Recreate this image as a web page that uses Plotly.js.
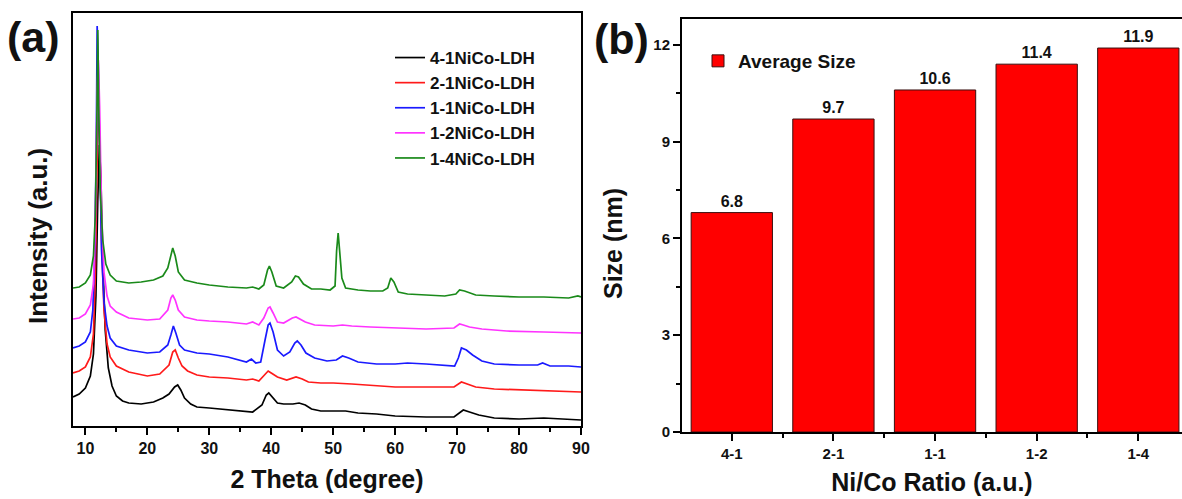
<!DOCTYPE html>
<html><head><meta charset="utf-8">
<script src="https://cdn.plot.ly/plotly-3.0.1.min.js"></script>
<style>html,body{margin:0;padding:0;background:#fff;overflow:hidden}#chart{width:1182px;height:499px}</style>
</head><body><div id="chart"></div>
<script>
// ---------- Panel (a): XRD patterns ----------
const seriesNames = ['4-1NiCo-LDH', '2-1NiCo-LDH', '1-1NiCo-LDH', '1-2NiCo-LDH', '1-4NiCo-LDH'];
const seriesColors = ['#000000', '#ff1a1a', '#1a1aff', '#ff33ff', '#1a8a1a'];

const theta41 = [8, 9, 10, 10.8, 11.3, 11.7, 12.0, 12.25, 12.5, 12.8, 13.2, 13.7, 14.3, 15, 16, 17, 19, 21, 22.5, 23.5, 24.4, 24.9, 25.4, 26, 27, 28, 30, 32, 35, 37, 38.5, 39.2, 39.6, 40.2, 41, 42, 43.5, 44.5, 45.5, 46.5, 48, 50, 52, 54, 57, 60, 65, 69.5, 70.5, 71, 72, 73.5, 76, 80, 84, 87, 90];
const int41 = [29, 32, 38, 50, 72, 130, 226, 281, 250, 166, 96, 58, 40, 30, 25, 23, 22, 24, 28, 32, 39, 41, 36, 28, 22, 19, 18, 17, 15, 14, 21, 31, 33, 29, 23, 22, 22, 23, 21, 17, 15, 15, 15, 13, 12, 10, 9, 9, 14, 16, 14, 11, 8, 7, 8, 7, 6];

const theta21 = [8, 9, 10, 10.8, 11.3, 11.6, 11.9, 12.1, 12.3, 12.6, 13, 13.5, 14, 15, 17, 20, 22, 23.5, 24.1, 24.5, 25, 25.6, 26.5, 28, 30, 33, 36, 37, 38, 39, 39.5, 40, 41, 42.5, 44, 45, 46, 48, 50, 53, 56, 60, 65, 69.5, 70.7, 71.5, 73, 76, 80, 85, 90];
const int21 = [53, 55, 59, 69, 92, 150, 266, 326, 290, 186, 116, 82, 69, 60, 54, 50, 52, 61, 74, 76, 68, 60, 55, 51, 49, 48, 46, 47, 45, 52, 55, 53, 49, 46, 49, 47, 44, 43, 43, 42, 41, 39, 39, 39, 44, 42, 39, 37, 36, 35, 34];

const theta11 = [8, 9, 10, 10.8, 11.2, 11.5, 11.75, 11.9, 12.05, 12.3, 12.6, 13, 13.5, 14, 15, 17, 20, 22, 23.3, 23.8, 24.2, 24.6, 25.2, 26, 28, 30, 33, 36, 36.8, 37.5, 38.3, 39, 39.5, 39.8, 40.3, 41, 42, 43, 43.8, 44.2, 44.8, 45.6, 47, 49, 50.5, 51.5, 52.5, 54, 57, 60, 62, 65, 68, 69.6, 70.2, 70.7, 71.5, 72.5, 74, 76, 80, 83, 83.8, 85, 88, 90];
const int11 = [78, 80, 84, 94, 116, 170, 276, 400, 370, 266, 176, 124, 100, 88, 80, 76, 73, 74, 81, 91, 100, 93, 81, 76, 73, 72, 69, 64, 67, 63, 64, 86, 101, 103, 94, 76, 70, 74, 83, 85, 81, 73, 68, 65, 66, 70, 68, 64, 62, 62, 63, 62, 61, 60, 68, 78, 76, 71, 65, 62, 61, 61, 63, 60, 60, 59];

const theta12 = [8, 9, 10, 10.8, 11.3, 11.6, 11.9, 12.1, 12.3, 12.6, 13, 13.5, 14, 15, 17, 20, 22, 23.3, 23.8, 24.1, 24.5, 25, 26, 28, 30, 33, 36, 37, 38, 38.8, 39.5, 39.8, 40.3, 41, 42, 43.4, 44, 44.6, 45.5, 47, 50, 51.5, 53, 56, 60, 65, 69.5, 70.4, 71, 72, 74, 78, 84, 90];
const int12 = [107, 108, 112, 121, 142, 200, 336, 366, 320, 216, 154, 130, 120, 114, 108, 106, 107, 116, 128, 131, 126, 116, 109, 106, 105, 104, 102, 104, 101, 108, 118, 119, 113, 104, 103, 108, 109, 107, 104, 101, 100, 101, 100, 99, 98, 97, 98, 102, 101, 99, 97, 95, 94, 93];

const theta14 = [8, 9, 10, 10.8, 11.3, 11.6, 11.85, 12.0, 12.15, 12.4, 12.8, 13.3, 14, 15, 17, 19, 21, 22.5, 23.3, 23.8, 24.1, 24.5, 25, 26, 28, 30, 33, 36, 37, 38, 38.8, 39.4, 39.7, 40.1, 40.8, 42, 43.3, 43.9, 44.4, 45.2, 46.5, 48, 49.5, 50.3, 50.55, 50.8, 51.05, 51.4, 52, 54, 56, 58, 58.8, 59.3, 59.8, 60.5, 62, 65, 68, 69.8, 70.4, 71.2, 72, 73, 76, 80, 84, 88, 89.5, 90];
const int14 = [138, 139, 143, 151, 170, 210, 306, 396, 320, 236, 186, 162, 151, 145, 143, 144, 146, 150, 158, 171, 178, 170, 154, 146, 143, 141, 139, 138, 139, 137, 141, 156, 160, 154, 140, 138, 144, 150, 149, 142, 137, 137, 136, 140, 175, 193, 172, 148, 138, 136, 135, 135, 138, 148, 144, 134, 132, 131, 130, 132, 136, 135, 133, 131, 130, 129, 129, 128, 130, 129];

const thetaSets = [theta41, theta21, theta11, theta12, theta14];
const intSets = [int41, int21, int11, int12, int14];

// ---------- Panel (b): average size ----------
const ratioCategories = ['4-1', '2-1', '1-1', '1-2', '1-4'];
const averageSize = [6.8, 9.7, 10.6, 11.4, 11.9];
const sizeTickVals = [0, 3, 6, 9, 12];

const W = 1182, H = 499;
const fx = p => p / W;
const fy = p => 1 - p / H;
const FONT = 'Liberation Sans, Arial, Helvetica, sans-serif';
const INK = '#111';

const traces = seriesNames.map((name, i) => ({
  type: 'scatter', mode: 'lines', name: name,
  x: thetaSets[i], y: intSets[i],
  line: {color: seriesColors[i], width: 1.7},
  xaxis: 'x', yaxis: 'y', legend: 'legend', legendgroup: 'g' + i
}));

const idx = ratioCategories.map((c, i) => i);
traces.push({
  type: 'bar', name: 'Average Size',
  x: idx, y: averageSize,
  width: 0.8,
  marker: {color: '#ff0000', line: {color: '#3a1010', width: 1}},
  text: averageSize.map(v => v.toFixed(1)),
  textposition: 'outside',
  textfont: {family: FONT, size: 16, weight: 'bold', color: INK},
  cliponaxis: false,
  xaxis: 'x2', yaxis: 'y2', legend: 'legend2'
});

const axLine = {showline: true, linewidth: 2, linecolor: '#000', mirror: true, showgrid: false, zeroline: false};

const layout = {
  width: W, height: H,
  margin: {l: 0, r: 0, t: 0, b: 0},
  paper_bgcolor: '#fff', plot_bgcolor: '#fff',
  font: {family: FONT, color: '#000'},
  showlegend: true,
  xaxis: Object.assign({}, axLine, {
    domain: [fx(73), fx(581)], range: [8, 90], anchor: 'y',
    tickmode: 'linear', tick0: 0, dtick: 10,
    ticks: 'outside', ticklen: 7, tickwidth: 2, tickcolor: '#000',
    tickfont: {size: 16, weight: 'bold', color: INK},
    minor: {tick0: 0, dtick: 5, ticks: 'outside', ticklen: 4, tickwidth: 2, tickcolor: '#000', showgrid: false},
    title: {text: '2 Theta (degree)', font: {size: 25, weight: 'bold', color: INK}, standoff: 14}
  }),
  yaxis: Object.assign({}, axLine, {
    domain: [fy(426), fy(13)], range: [0, 413], anchor: 'x',
    showticklabels: false, ticks: ''
  }),
  xaxis2: Object.assign({}, axLine, {
    domain: [fx(682), 1], range: [-0.49, 4.43], anchor: 'y2',
    tickmode: 'array', tickvals: idx, ticktext: ratioCategories,
    ticks: 'outside', ticklen: 7, tickwidth: 2, tickcolor: '#000',
    tickfont: {size: 15, weight: 'bold', color: INK},
    minor: {tick0: 0.5, dtick: 1, ticks: 'outside', ticklen: 4, tickwidth: 2, tickcolor: '#000', showgrid: false},
    title: {text: 'Ni/Co Ratio (a.u.)', font: {size: 25, weight: 'bold', color: INK}, standoff: 12}
  }),
  yaxis2: Object.assign({}, axLine, {
    domain: [fy(432), fy(19)], range: [0, 12.8], anchor: 'x2',
    tickmode: 'array', tickvals: sizeTickVals,
    ticks: 'outside', ticklen: 7, tickwidth: 2, tickcolor: '#000',
    tickfont: {size: 15, weight: 'bold', color: INK},
    minor: {tick0: 0, dtick: 1.5, ticks: 'outside', ticklen: 4, tickwidth: 2, tickcolor: '#000', showgrid: false}
  }),
  legend: {
    x: fx(390), y: fy(40), xanchor: 'left', yanchor: 'top',
    font: {size: 17, weight: 'bold', color: INK},
    bgcolor: 'rgba(0,0,0,0)', borderwidth: 0, tracegroupgap: 0, traceorder: 'normal'
  },
  legend2: {
    x: fx(698), y: fy(42), xanchor: 'left', yanchor: 'top',
    font: {size: 19, weight: 'bold', color: INK},
    bgcolor: 'rgba(0,0,0,0)', borderwidth: 0
  },
  annotations: [
    {text: '(a)', xref: 'paper', yref: 'paper', x: fx(33), y: fy(37), xanchor: 'center', yanchor: 'middle', showarrow: false, font: {size: 43, weight: 'bold', color: INK}},
    {text: '(b)', xref: 'paper', yref: 'paper', x: fx(622), y: fy(39), xanchor: 'center', yanchor: 'middle', showarrow: false, font: {size: 43, weight: 'bold', color: INK}},
    {text: 'Intensity (a.u.)', xref: 'paper', yref: 'paper', x: fx(38), y: fy(236), xanchor: 'center', yanchor: 'middle', textangle: -90, showarrow: false, font: {size: 26, weight: 'bold', color: INK}},
    {text: 'Size (nm)', xref: 'paper', yref: 'paper', x: fx(613), y: fy(244), xanchor: 'center', yanchor: 'middle', textangle: -90, showarrow: false, font: {size: 25, weight: 'bold', color: INK}}
  ]
};

Plotly.newPlot('chart', traces, layout, {staticPlot: true, displayModeBar: false});
</script></body></html>
